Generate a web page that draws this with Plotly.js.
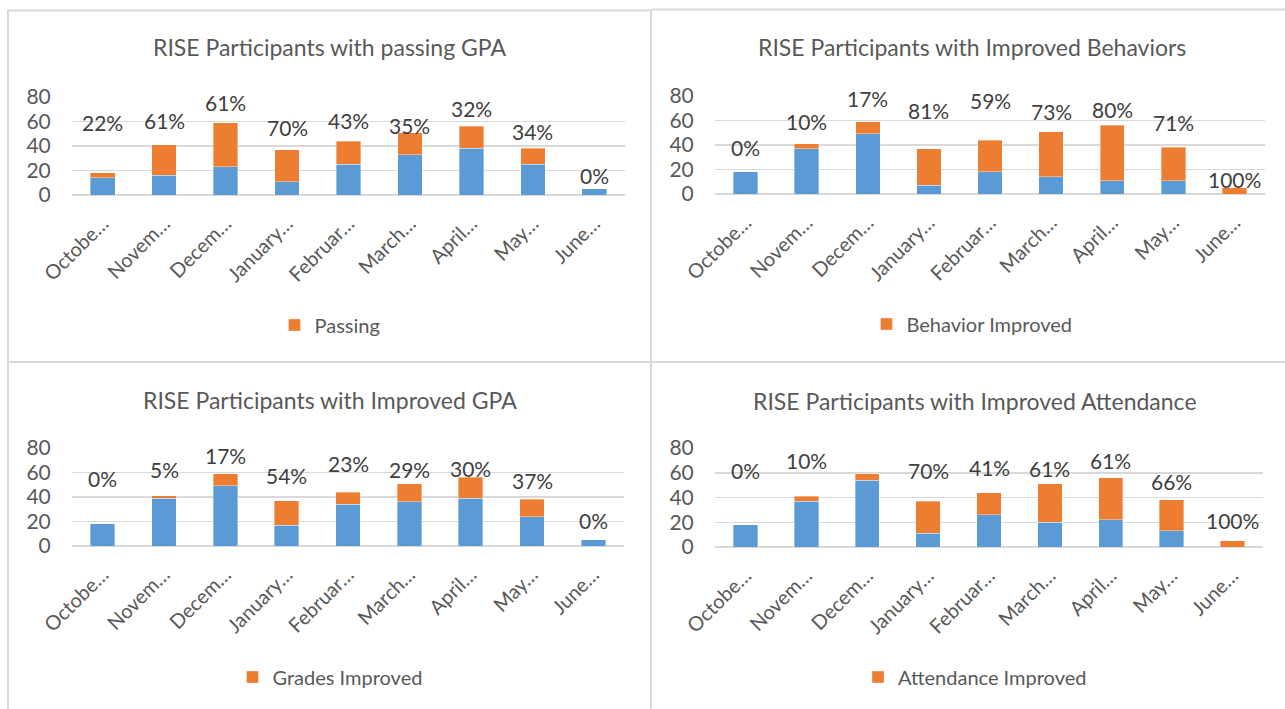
<!DOCTYPE html>
<html>
<head>
<meta charset="utf-8">
<script src="https://cdn.plot.ly/plotly-3.0.1.min.js"></script>
<style>
  html, body { margin: 0; padding: 0; background: #ffffff; }
  #chart { width: 1285px; height: 709px; }
</style>
</head>
<body>
<div id="chart"></div>
<script>
// ---------- data ----------
const months = ["Octobe…", "Novem…", "Decem…", "January…", "Februar…", "March…", "April…", "May…", "June…"];

// Panel 1: passing GPA
const gpaNotPassing = [14, 16, 23, 11, 25, 33, 38, 25, 5];
const gpaPassing    = [4, 25, 36, 26, 19, 18, 18, 13, 0];
const gpaPassingPct = ["22%", "61%", "61%", "70%", "43%", "35%", "32%", "34%", "0%"];
const gpaPassingLabelY = [59.5, 61, 75.5, 55, 61, 57, 70.5, 52.2, 16];

// Panel 2: improved behaviors
const behNotImproved = [18, 37, 49, 7, 18, 14, 11, 11, 0];
const behImproved    = [0, 4, 10, 30, 26, 37, 45, 27, 5];
const behImprovedPct = ["0%", "10%", "17%", "81%", "59%", "73%", "80%", "71%", "100%"];
const behLabelY = [38, 59, 78, 68.5, 76, 67, 69, 58, 11.5];

// Panel 3: improved GPA
const gradesNotImproved = [18, 39, 49, 17, 34, 36, 39, 24, 5];
const gradesImproved    = [0, 2, 10, 20, 10, 15, 17, 14, 0];
const gradesImprovedPct = ["0%", "5%", "17%", "54%", "23%", "29%", "30%", "37%", "0%"];
const gradesLabelY = [55.3, 62.3, 73.7, 57.6, 67.5, 62.3, 63, 53.5, 20.5];

// Panel 4: improved attendance
const attNotImproved = [18, 37, 54, 11, 26, 20, 22, 13, 0];
const attImproved    = [0, 4, 5, 26, 18, 31, 34, 25, 5];
const attImprovedPct = ["0%", "10%", "8%", "70%", "41%", "61%", "61%", "66%", "100%"];
const attLabelY = [62, 70, 81.3, 62, 64.3, 63.5, 70, 53, 21.2];

const titles = [
  "RISE Participants with passing GPA",
  "RISE Participants with Improved Behaviors",
  "RISE Participants with Improved GPA",
  "RISE Participants with Improved Attendance"
];
const legendNames = ["Passing", "Behavior Improved", "Grades Improved", "Attendance Improved"];
const baseNames = ["Not Passing", "Behavior Not Improved", "Grades Not Improved", "Attendance Not Improved"];

// ---------- styling / layout ----------
const W = 1285, H = 709;
const BLUE = "#5B9BD5", ORANGE = "#ED7D31";
const GRID = "#D9D9D9", TXT = "#595959", LBL = "#404040";
const FONT = "Lato, 'Open Sans', sans-serif";

// plot-area pixel boxes [left, right, top(80), bottom(0)]
const boxes = [
  [72, 625, 97, 195],
  [715, 1265, 96, 194],
  [72, 624, 448, 546],
  [715, 1263, 448, 547]
];
const titlePos = [[330, 47], [972, 47], [330, 400], [975, 401]];
const legendPos = [[330, 325], [972, 324], [330, 677], [975, 677]];

const panels = [
  [gpaNotPassing, gpaPassing, gpaPassingPct, gpaPassingLabelY],
  [behNotImproved, behImproved, behImprovedPct, behLabelY],
  [gradesNotImproved, gradesImproved, gradesImprovedPct, gradesLabelY],
  [attNotImproved, attImproved, attImprovedPct, attLabelY]
];

const data = [];
const annotations = [];
const layout = {
  width: W, height: H,
  margin: {l: 0, r: 0, t: 0, b: 0},
  paper_bgcolor: "#ffffff",
  plot_bgcolor: "rgba(0,0,0,0)",
  font: {family: FONT, color: TXT, size: 20},
  barmode: "stack",
  bargap: 0.6,
  showlegend: true,
  annotations: annotations,
  shapes: []
};

panels.forEach((p, i) => {
  const n = i === 0 ? "" : String(i + 1);
  const xa = "x" + n, ya = "y" + n;
  const legendId = "legend" + n;
  data.push({
    type: "bar", x: months, y: p[0], name: baseNames[i],
    xaxis: xa, yaxis: ya, showlegend: false,
    marker: {color: BLUE, line: {color: "rgba(255,255,255,0.6)", width: 0.6}},
    legend: legendId
  });
  data.push({
    type: "bar", x: months, y: p[1], name: legendNames[i],
    xaxis: xa, yaxis: ya, showlegend: true, legend: legendId,
    marker: {color: ORANGE, line: {color: "rgba(255,255,255,0.6)", width: 0.6}}
  });
  const b = boxes[i];
  layout["xaxis" + n] = {
    domain: [b[0] / W, b[1] / W],
    anchor: ya,
    type: "category",
    categoryorder: "array", categoryarray: months,
    tickangle: -45,
    showgrid: false, showline: false, zeroline: false,
    ticks: "outside", ticklen: 8, tickcolor: "rgba(0,0,0,0)",
    tickfont: {family: FONT, size: 20, color: TXT},
    fixedrange: true
  };
  layout["yaxis" + n] = {
    domain: [1 - b[3] / H, 1 - b[2] / H],
    anchor: xa,
    range: [0, 80],
    dtick: 20,
    showgrid: true, gridcolor: GRID, gridwidth: 1.5,
    zeroline: true, zerolinecolor: GRID, zerolinewidth: 1.5,
    showline: false,
    ticks: "outside", ticklen: 16, tickcolor: "rgba(0,0,0,0)",
    tickfont: {family: FONT, size: 21, color: TXT},
    fixedrange: true
  };
  layout[legendId] = {
    x: legendPos[i][0] / W, y: 1 - legendPos[i][1] / H,
    xanchor: "center", yanchor: "middle",
    orientation: "h",
    font: {family: FONT, size: 20, color: TXT},
    bgcolor: "rgba(0,0,0,0)",
    itemwidth: 30
  };
  annotations.push({
    xref: "paper", yref: "paper",
    x: titlePos[i][0] / W, y: 1 - titlePos[i][1] / H,
    xanchor: "center", yanchor: "middle",
    text: titles[i], showarrow: false,
    font: {family: FONT, size: 23, color: TXT}
  });
  months.forEach((m, j) => {
    annotations.push({
      xref: xa, yref: ya, x: m, y: p[3][j],
      text: p[2][j], showarrow: false,
      xanchor: "center", yanchor: "middle",
      font: {family: FONT, size: 21, color: LBL}
    });
  });
});

// panel borders
const border = {type: "line", xref: "paper", yref: "paper", line: {color: GRID, width: 2}};
function hline(x0, x1, y) { layout.shapes.push(Object.assign({}, border, {x0: x0 / W, x1: x1 / W, y0: 1 - y / H, y1: 1 - y / H})); }
function vline(x, y0, y1) { layout.shapes.push(Object.assign({}, border, {x0: x / W, x1: x / W, y0: 1 - y0 / H, y1: 1 - y1 / H})); }
hline(7, 650, 10.5);
hline(651, 1285, 9.5);
hline(7, 1285, 362);
vline(8, 10.5, 709);
vline(651, 9.5, 709);

Plotly.newPlot("chart", data, layout, {displayModeBar: false, staticPlot: true});
</script>
</body>
</html>
